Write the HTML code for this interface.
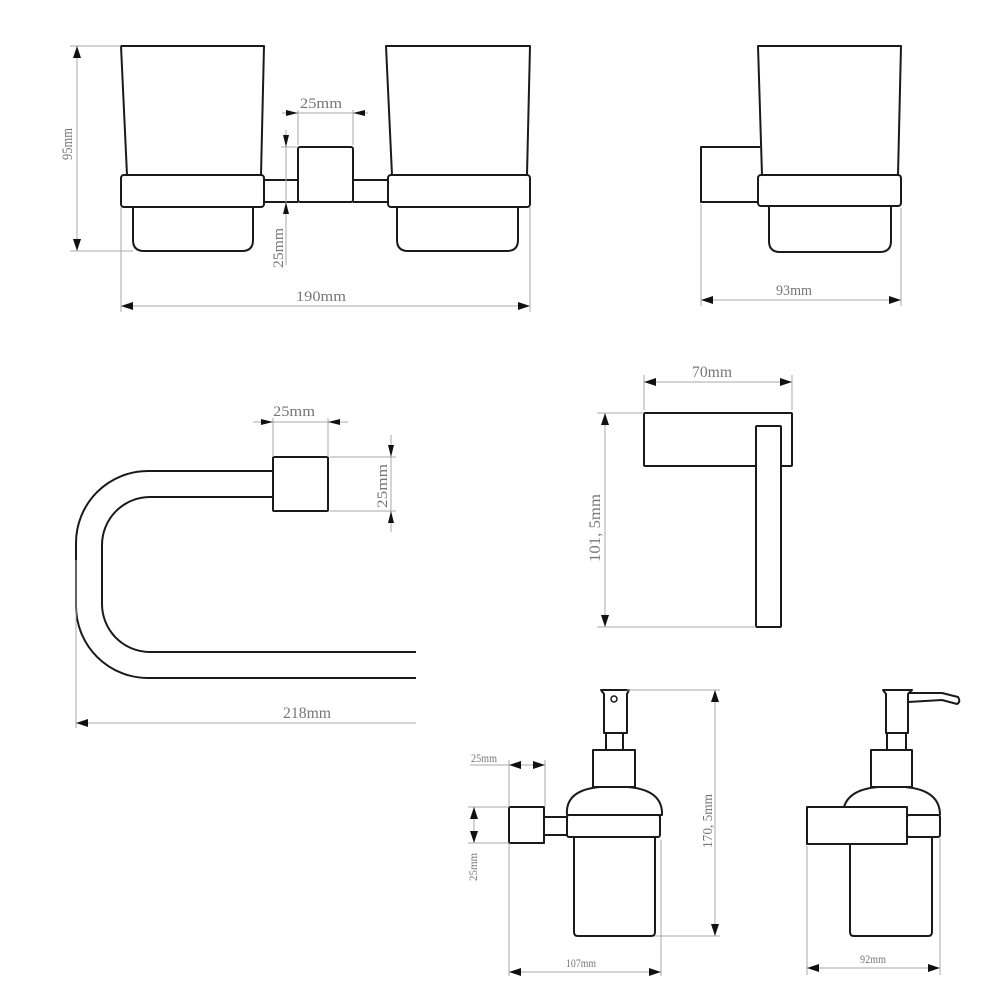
<!DOCTYPE html>
<html><head><meta charset="utf-8"><style>
html,body{margin:0;padding:0;background:#fff;}
svg{display:block;}
.o{fill:none;stroke:#1a1a1a;stroke-width:2;stroke-linejoin:round;}
.d{fill:none;stroke:#aaa;stroke-width:1;}
.a{fill:#111;}
text{font-family:"Liberation Serif",serif;fill:#777;}
</style></head><body>
<svg width="1000" height="1000" viewBox="0 0 1000 1000" xmlns="http://www.w3.org/2000/svg">
<defs>
<marker id="ar" viewBox="0 0 12 8" refX="12" refY="4" markerWidth="12" markerHeight="8" markerUnits="userSpaceOnUse" orient="auto-start-reverse">
<path d="M0,0 L12,4 L0,8 z" fill="#111"/></marker>
</defs>

<!-- ===== Double tumbler ===== -->
<path class="o" d="M121,46 L264,46 L261,175 L127,175 Z"/>
<rect class="o" x="121" y="175" width="143" height="32" rx="3"/>
<path class="o" d="M133,207 L133,240 Q133,251 144,251 L242,251 Q253,251 253,240 L253,207"/>
<path class="o" d="M264,180 L298,180 M264,202 L298,202"/>
<rect class="o" x="298" y="147" width="55" height="55" rx="2"/>
<path class="o" d="M353,180 L388,180 M353,202 L388,202"/>
<path class="o" d="M386,46 L530,46 L527,175 L392,175 Z"/>
<rect class="o" x="388" y="175" width="142" height="32" rx="3"/>
<path class="o" d="M397,207 L397,240 Q397,251 408,251 L507,251 Q518,251 518,240 L518,207"/>
<!-- 95mm -->
<path class="d" d="M70,46 L121,46 M70,251 L133,251"/>
<line class="d" x1="77" y1="46" x2="77" y2="251" marker-start="url(#ar)" marker-end="url(#ar)"/>
<text x="0" y="0" font-size="15" transform="translate(72,160) rotate(-90)" textLength="32" lengthAdjust="spacingAndGlyphs">95mm</text>
<!-- 25mm top -->
<path class="d" d="M298,110 L298,145 M353,110 L353,145 M282,113 L368,113"/>
<polygon class="a" points="298,113 286,110 286,116"/>
<polygon class="a" points="353,113 365,110 365,116"/>
<text x="300" y="108" font-size="15" textLength="42" lengthAdjust="spacingAndGlyphs">25mm</text>
<!-- 25mm vertical -->
<path class="d" d="M286,130 L286,265 M281,147 L298,147"/>
<polygon class="a" points="286,147 283,135 289,135"/>
<polygon class="a" points="286,202 283,214 289,214"/>
<text x="0" y="0" font-size="15" transform="translate(283,268) rotate(-90)" textLength="40" lengthAdjust="spacingAndGlyphs">25mm</text>
<!-- 190mm -->
<path class="d" d="M121,207 L121,312 M530,207 L530,312"/>
<line class="d" x1="121" y1="306" x2="530" y2="306" marker-start="url(#ar)" marker-end="url(#ar)"/>
<text x="296" y="301" font-size="15" textLength="50" lengthAdjust="spacingAndGlyphs">190mm</text>

<!-- ===== Single tumbler ===== -->
<path class="o" d="M758,46 L901,46 L898,175 L762,175 Z"/>
<rect class="o" x="758" y="175" width="143" height="31" rx="3"/>
<path class="o" d="M769,206 L769,241 Q769,252 780,252 L880,252 Q891,252 891,241 L891,206"/>
<path class="o" d="M760,147 L701,147 L701,202 L758,202"/>
<path class="d" d="M701,204 L701,306 M901,208 L901,306"/>
<line class="d" x1="701" y1="300" x2="901" y2="300" marker-start="url(#ar)" marker-end="url(#ar)"/>
<text x="776" y="295" font-size="15" textLength="36" lengthAdjust="spacingAndGlyphs">93mm</text>

<!-- ===== Towel ring ===== -->
<path class="o" d="M273,471 L148,471 A72,72 0 0 0 76,543 L76,606 A72,72 0 0 0 148,678 L416,678"/>
<path class="o" d="M273,497 L150,497 A48,48 0 0 0 102,545 L102,604 A48,48 0 0 0 150,652 L416,652"/>
<rect class="o" x="273" y="457" width="55" height="54" rx="1"/>
<path class="d" d="M273,418 L273,457 M328,418 L328,457 M253,422 L348,422"/>
<polygon class="a" points="273,422 261,419 261,425"/>
<polygon class="a" points="328,422 340,419 340,425"/>
<text x="273" y="416" font-size="15" textLength="42" lengthAdjust="spacingAndGlyphs">25mm</text>
<path class="d" d="M330,457 L396,457 M330,511 L396,511 M391,435 L391,532"/>
<polygon class="a" points="391,457 388,445 394,445"/>
<polygon class="a" points="391,511 388,523 394,523"/>
<text x="0" y="0" font-size="15" transform="translate(387,508) rotate(-90)" textLength="44" lengthAdjust="spacingAndGlyphs">25mm</text>
<path class="d" d="M76,560 L76,728"/>
<line class="d" x1="76" y1="723" x2="416" y2="723" marker-start="url(#ar)"/>
<text x="283" y="718" font-size="16" textLength="48" lengthAdjust="spacingAndGlyphs">218mm</text>

<!-- ===== Toilet roll holder ===== -->
<rect class="o" x="644" y="413" width="148" height="53" rx="1"/>
<rect class="o" x="756" y="426" width="25" height="201" rx="1" fill="#fff" style="fill:#fff"/>
<path class="d" d="M644,375 L644,410 M792,375 L792,410"/>
<line class="d" x1="644" y1="382" x2="792" y2="382" marker-start="url(#ar)" marker-end="url(#ar)"/>
<text x="692" y="377" font-size="16" textLength="40" lengthAdjust="spacingAndGlyphs">70mm</text>
<path class="d" d="M597,413 L644,413 M597,627 L756,627"/>
<line class="d" x1="605" y1="413" x2="605" y2="627" marker-start="url(#ar)" marker-end="url(#ar)"/>
<text x="0" y="0" font-size="16" transform="translate(600,562) rotate(-90)" textLength="68" lengthAdjust="spacingAndGlyphs">101, 5mm</text>

<!-- ===== Soap dispenser side ===== -->
<path class="o" d="M601,690 L629,690 L627,694 L627,733 L604,733 L604,694 Z"/>
<circle cx="614" cy="699" r="3" class="o" style="stroke-width:1.5"/>
<rect class="o" x="606" y="733" width="17" height="17"/>
<rect class="o" x="593" y="750" width="42" height="37"/>
<path class="o" d="M567,815 Q565,790 600,787 L628,787 Q663,790 662,815 Z"/>
<rect class="o" x="567" y="815" width="93" height="22" rx="2"/>
<path class="o" d="M574,837 L574,932 Q574,936 578,936 L651,936 Q655,936 655,932 L655,837"/>
<rect class="o" x="509" y="807" width="35" height="36"/>
<path class="o" d="M544,817 L567,817 M544,835 L567,835"/>
<path class="d" d="M627,690 L720,690 M655,936 L720,936"/>
<line class="d" x1="715" y1="690" x2="715" y2="936" marker-start="url(#ar)" marker-end="url(#ar)"/>
<text x="0" y="0" font-size="14" transform="translate(712,848) rotate(-90)" textLength="54" lengthAdjust="spacingAndGlyphs">170, 5mm</text>
<path class="d" d="M509,760 L509,807 M545,760 L545,807 M470,765 L509,765"/>
<line class="d" x1="509" y1="765" x2="545" y2="765" marker-start="url(#ar)" marker-end="url(#ar)"/>
<text x="471" y="762" font-size="12" textLength="26" lengthAdjust="spacingAndGlyphs">25mm</text>
<path class="d" d="M468,807 L509,807 M468,843 L509,843"/>
<line class="d" x1="474" y1="807" x2="474" y2="843" marker-start="url(#ar)" marker-end="url(#ar)"/>
<text x="0" y="0" font-size="12" transform="translate(477,881) rotate(-90)" textLength="28" lengthAdjust="spacingAndGlyphs">25mm</text>
<path class="d" d="M509,843 L509,976 M661,840 L661,976"/>
<line class="d" x1="509" y1="972" x2="661" y2="972" marker-start="url(#ar)" marker-end="url(#ar)"/>
<text x="566" y="967" font-size="12" textLength="30" lengthAdjust="spacingAndGlyphs">107mm</text>

<!-- ===== Soap dispenser front ===== -->
<path class="o" d="M883,690 L912,690 L908,694 L908,733 L886,733 L886,694 Z"/>
<path class="o" d="M908,693 L942,693 L958,697 Q961,702 957,704 L942,700 L908,702"/>
<rect class="o" x="887" y="733" width="19" height="17"/>
<rect class="o" x="871" y="750" width="41" height="37"/>
<path class="o" d="M843,815 Q843,790 878,787 L905,787 Q940,790 940,815"/>
<rect class="o" x="907" y="815" width="33" height="22" rx="2"/>
<path class="o" d="M850,844 L850,932 Q850,936 854,936 L928,936 Q932,936 932,932 L932,837"/>
<rect class="o" x="807" y="807" width="100" height="37" fill="#fff" style="fill:#fff"/>
<path class="d" d="M807,846 L807,975 M940,838 L940,975"/>
<line class="d" x1="807" y1="968" x2="940" y2="968" marker-start="url(#ar)" marker-end="url(#ar)"/>
<text x="860" y="963" font-size="12" textLength="26" lengthAdjust="spacingAndGlyphs">92mm</text>
</svg>
</body></html>
